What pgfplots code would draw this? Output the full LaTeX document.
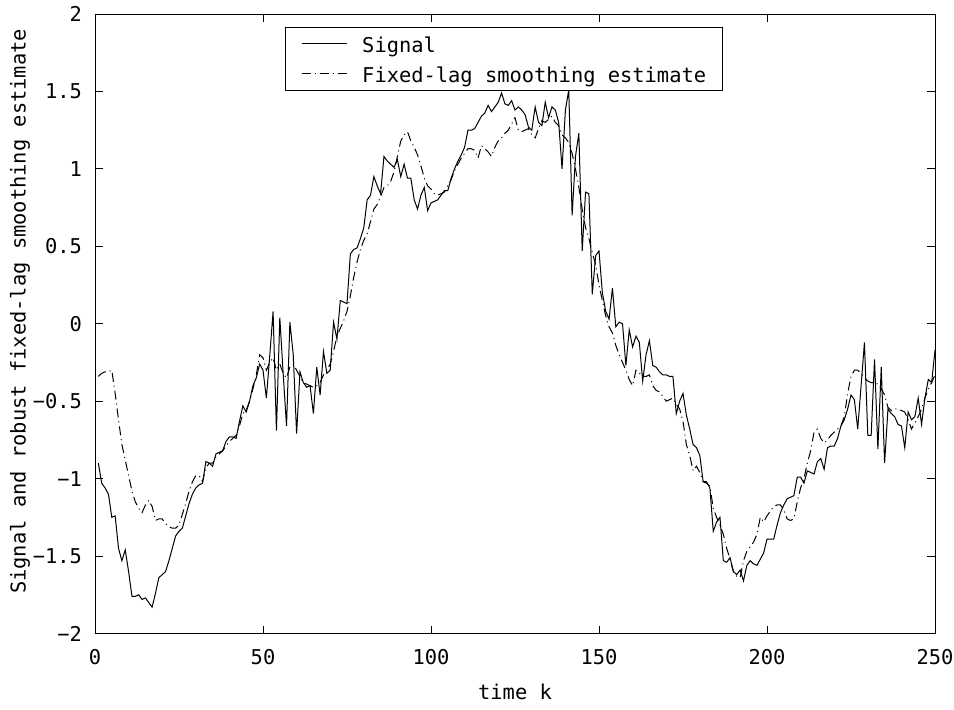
\documentclass[border=0pt]{standalone}
\usepackage{pgfplots}
\usepackage{pgfplotstable}
\pgfplotsset{compat=1.18}
\usepackage{fontspec}
\setmainfont{DejaVu Sans Mono}

\pgfplotstableread{
k y
1 -0.90
2 -1.03
3 -1.06
4 -1.10
5 -1.25
6 -1.24
7 -1.45
8 -1.53
9 -1.46
10 -1.60
11 -1.76
12 -1.76
13 -1.75
14 -1.78
15 -1.77
16 -1.80
17 -1.83
18 -1.74
19 -1.64
20 -1.62
21 -1.60
22 -1.53
23 -1.45
24 -1.37
25 -1.34
26 -1.32
27 -1.24
28 -1.16
29 -1.10
30 -1.06
31 -1.04
32 -1.03
33 -0.89
34 -0.90
35 -0.92
36 -0.84
37 -0.83
38 -0.82
39 -0.76
40 -0.73
41 -0.73
42 -0.74
43 -0.63
44 -0.53
45 -0.57
46 -0.50
47 -0.40
48 -0.35
49 -0.26
50 -0.30
51 -0.48
52 -0.21
53 0.08
54 -0.69
55 0.04
56 -0.32
57 -0.66
58 0.01
59 -0.20
60 -0.71
61 -0.31
62 -0.38
63 -0.41
64 -0.40
65 -0.58
66 -0.28
67 -0.46
68 -0.18
69 -0.32
70 -0.30
71 0.01
72 -0.10
73 0.15
74 0.14
75 0.13
76 0.45
77 0.48
78 0.49
79 0.55
80 0.62
81 0.80
82 0.83
83 0.95
84 0.89
85 0.84
86 1.08
87 1.05
88 1.03
89 1.01
90 1.06
91 0.95
92 1.03
93 0.94
94 0.94
95 0.80
96 0.74
97 0.83
98 0.88
99 0.73
100 0.78
101 0.79
102 0.80
103 0.83
104 0.86
105 0.86
106 0.94
107 1.00
108 1.05
109 1.09
110 1.14
111 1.25
112 1.25
113 1.26
114 1.30
115 1.34
116 1.36
117 1.41
118 1.37
119 1.40
120 1.43
121 1.49
122 1.42
123 1.41
124 1.44
125 1.38
126 1.40
127 1.38
128 1.35
129 1.27
130 1.25
131 1.40
132 1.30
133 1.28
134 1.43
135 1.33
136 1.40
137 1.38
138 1.30
139 1.00
140 1.38
141 1.51
142 0.70
143 1.08
144 1.23
145 0.47
146 0.85
147 0.84
148 0.19
149 0.44
150 0.47
151 0.20
152 0.08
153 0.03
154 0.23
155 -0.02
156 0.01
157 0.00
158 -0.27
159 -0.04
160 -0.15
161 -0.08
162 -0.12
163 -0.37
164 -0.20
165 -0.11
166 -0.27
167 -0.28
168 -0.31
169 -0.33
170 -0.33
171 -0.34
172 -0.34
173 -0.58
174 -0.50
175 -0.45
176 -0.59
177 -0.68
178 -0.78
179 -0.80
180 -0.85
181 -1.02
182 -1.02
183 -1.06
184 -1.34
185 -1.28
186 -1.25
187 -1.53
188 -1.54
189 -1.51
190 -1.60
191 -1.62
192 -1.59
193 -1.66
194 -1.56
195 -1.53
196 -1.55
197 -1.56
198 -1.52
199 -1.48
200 -1.39
201 -1.39
202 -1.39
203 -1.30
204 -1.22
205 -1.17
206 -1.13
207 -1.12
208 -1.11
209 -0.99
210 -0.99
211 -1.03
212 -0.95
213 -0.96
214 -0.97
215 -0.89
216 -0.87
217 -0.94
218 -0.80
219 -0.79
220 -0.79
221 -0.74
222 -0.66
223 -0.62
224 -0.55
225 -0.46
226 -0.49
227 -0.68
228 -0.40
229 -0.12
230 -0.72
231 -0.72
232 -0.23
233 -0.81
234 -0.28
235 -0.90
236 -0.55
237 -0.58
238 -0.60
239 -0.65
240 -0.66
241 -0.80
242 -0.57
243 -0.62
244 -0.60
245 -0.48
246 -0.65
247 -0.48
248 -0.36
249 -0.38
250 -0.17
}\signaltable

\pgfplotstableread{
k y
1 -0.34
2 -0.32
3 -0.31
4 -0.31
5 -0.30
6 -0.45
7 -0.62
8 -0.78
9 -0.88
10 -0.98
11 -1.08
12 -1.15
13 -1.19
14 -1.22
15 -1.17
16 -1.14
17 -1.18
18 -1.27
19 -1.26
20 -1.26
21 -1.29
22 -1.31
23 -1.32
24 -1.32
25 -1.30
26 -1.23
27 -1.16
28 -1.08
29 -1.02
30 -0.98
31 -0.98
32 -1.02
33 -0.93
34 -0.90
35 -0.90
36 -0.86
37 -0.84
38 -0.82
39 -0.79
40 -0.76
41 -0.74
42 -0.72
43 -0.66
44 -0.58
45 -0.56
46 -0.50
47 -0.42
48 -0.33
49 -0.20
50 -0.22
51 -0.30
52 -0.25
53 -0.22
54 -0.30
55 -0.26
56 -0.32
57 -0.35
58 -0.28
59 -0.26
60 -0.30
61 -0.34
62 -0.38
63 -0.39
64 -0.40
65 -0.41
66 -0.40
67 -0.38
68 -0.33
69 -0.30
70 -0.26
71 -0.18
72 -0.08
73 -0.03
74 0.02
75 0.08
76 0.18
77 0.30
78 0.40
79 0.48
80 0.54
81 0.58
82 0.66
83 0.74
84 0.77
85 0.82
86 0.88
87 0.89
88 0.92
89 0.98
90 1.08
91 1.18
92 1.22
93 1.24
94 1.18
95 1.14
96 1.09
97 1.02
98 0.94
99 0.89
100 0.87
101 0.84
102 0.83
103 0.84
104 0.85
105 0.89
106 0.93
107 0.99
108 1.03
109 1.07
110 1.10
111 1.13
112 1.13
113 1.12
114 1.07
115 1.15
116 1.13
117 1.11
118 1.08
119 1.14
120 1.18
121 1.20
122 1.23
123 1.25
124 1.29
125 1.33
126 1.25
127 1.24
128 1.25
129 1.26
130 1.22
131 1.20
132 1.26
133 1.31
134 1.30
135 1.32
136 1.34
137 1.30
138 1.28
139 1.22
140 1.20
141 1.17
142 1.10
143 1.00
144 0.88
145 0.74
146 0.62
147 0.55
148 0.46
149 0.38
150 0.25
151 0.15
152 0.05
153 -0.02
154 -0.06
155 -0.14
156 -0.20
157 -0.25
158 -0.30
159 -0.36
160 -0.40
161 -0.30
162 -0.32
163 -0.34
164 -0.34
165 -0.33
166 -0.40
167 -0.43
168 -0.44
169 -0.47
170 -0.50
171 -0.49
172 -0.48
173 -0.52
174 -0.55
175 -0.63
176 -0.78
177 -0.85
178 -0.95
179 -0.92
180 -0.96
181 -1.02
182 -1.03
183 -1.05
184 -1.19
185 -1.25
186 -1.30
187 -1.36
188 -1.45
189 -1.52
190 -1.60
191 -1.63
192 -1.64
193 -1.53
194 -1.47
195 -1.44
196 -1.41
197 -1.36
198 -1.25
199 -1.28
200 -1.24
201 -1.21
202 -1.18
203 -1.17
204 -1.17
205 -1.20
206 -1.26
207 -1.27
208 -1.26
209 -1.15
210 -1.06
211 -1.00
212 -0.90
213 -0.82
214 -0.70
215 -0.68
216 -0.74
217 -0.77
218 -0.75
219 -0.72
220 -0.70
221 -0.68
222 -0.66
223 -0.60
224 -0.45
225 -0.34
226 -0.30
227 -0.30
228 -0.32
229 -0.35
230 -0.37
231 -0.38
232 -0.38
233 -0.39
234 -0.42
235 -0.46
236 -0.54
237 -0.56
238 -0.55
239 -0.55
240 -0.56
241 -0.57
242 -0.62
243 -0.68
244 -0.64
245 -0.60
246 -0.55
247 -0.48
248 -0.42
249 -0.38
250 -0.33
}\estimatetable

\begin{document}
\fontsize{20.4pt}{24pt}\selectfont
\begin{tikzpicture}
\begin{axis}[
  scale only axis,
  width=840pt, height=619.5pt,
  xmin=0, xmax=250, ymin=-2, ymax=2,
  xtick={0,50,100,150,200,250},
  xticklabels={0,50,100,150,200,250},
  ytick={-2,-1.5,-1,-0.5,0,0.5,1,1.5,2},
  yticklabels={−2,−1.5,−1,−0.5,0,0.5,1,1.5,2},
  tick align=inside,
  major tick length=8pt,
  axis line style={line width=0.8pt, black},
  tick style={line width=0.8pt, black},
  every tick label/.append style={font=\fontsize{20.4pt}{24pt}\selectfont},
  xticklabel style={yshift=-9pt},
  yticklabel style={xshift=-6pt},
  xlabel={time k},
  ylabel={Signal and robust fixed-lag smoothing estimate},
  xlabel style={at={(axis description cs:0.5,0)}, anchor=center, yshift=-58.5pt, font=\fontsize{20.4pt}{24pt}\selectfont},
  ylabel style={at={(axis description cs:0,0.52)}, anchor=center, rotate=0, yshift=75pt, font=\fontsize{20.4pt}{24pt}\selectfont},
  legend style={
    at={(axis description cs:0.226,0.979)}, anchor=north west,
    draw=black, line width=0.8pt, fill=white,
    font=\fontsize{20.4pt}{24pt}\selectfont,
    inner xsep=16pt, inner ysep=3pt, row sep=3pt,
    nodes={inner xsep=0pt, inner ysep=3pt, text height=19.5pt, text depth=1.5pt},
    /tikz/every odd column/.append style={column sep=15pt},
  },
  legend cell align=left,
  legend image code/.code={\draw[#1] (0pt,0pt) -- (45pt,0pt);},
]
\addplot[black, line width=1pt] table[x=k, y=y] {\signaltable};
\addlegendentry{Signal}
\addplot[black, line width=1pt, dash pattern=on 9pt off 4pt on 1pt off 4pt] table[x=k, y=y] {\estimatetable};
\addlegendentry{Fixed-lag smoothing estimate\hspace{-5pt}}
\end{axis}
\pgfresetboundingbox
\useasboundingbox ([shift={(-95pt,-75.5pt)}]current axis.south west) rectangle ([shift={(19pt,14pt)}]current axis.north east);
\end{tikzpicture}
\end{document}
